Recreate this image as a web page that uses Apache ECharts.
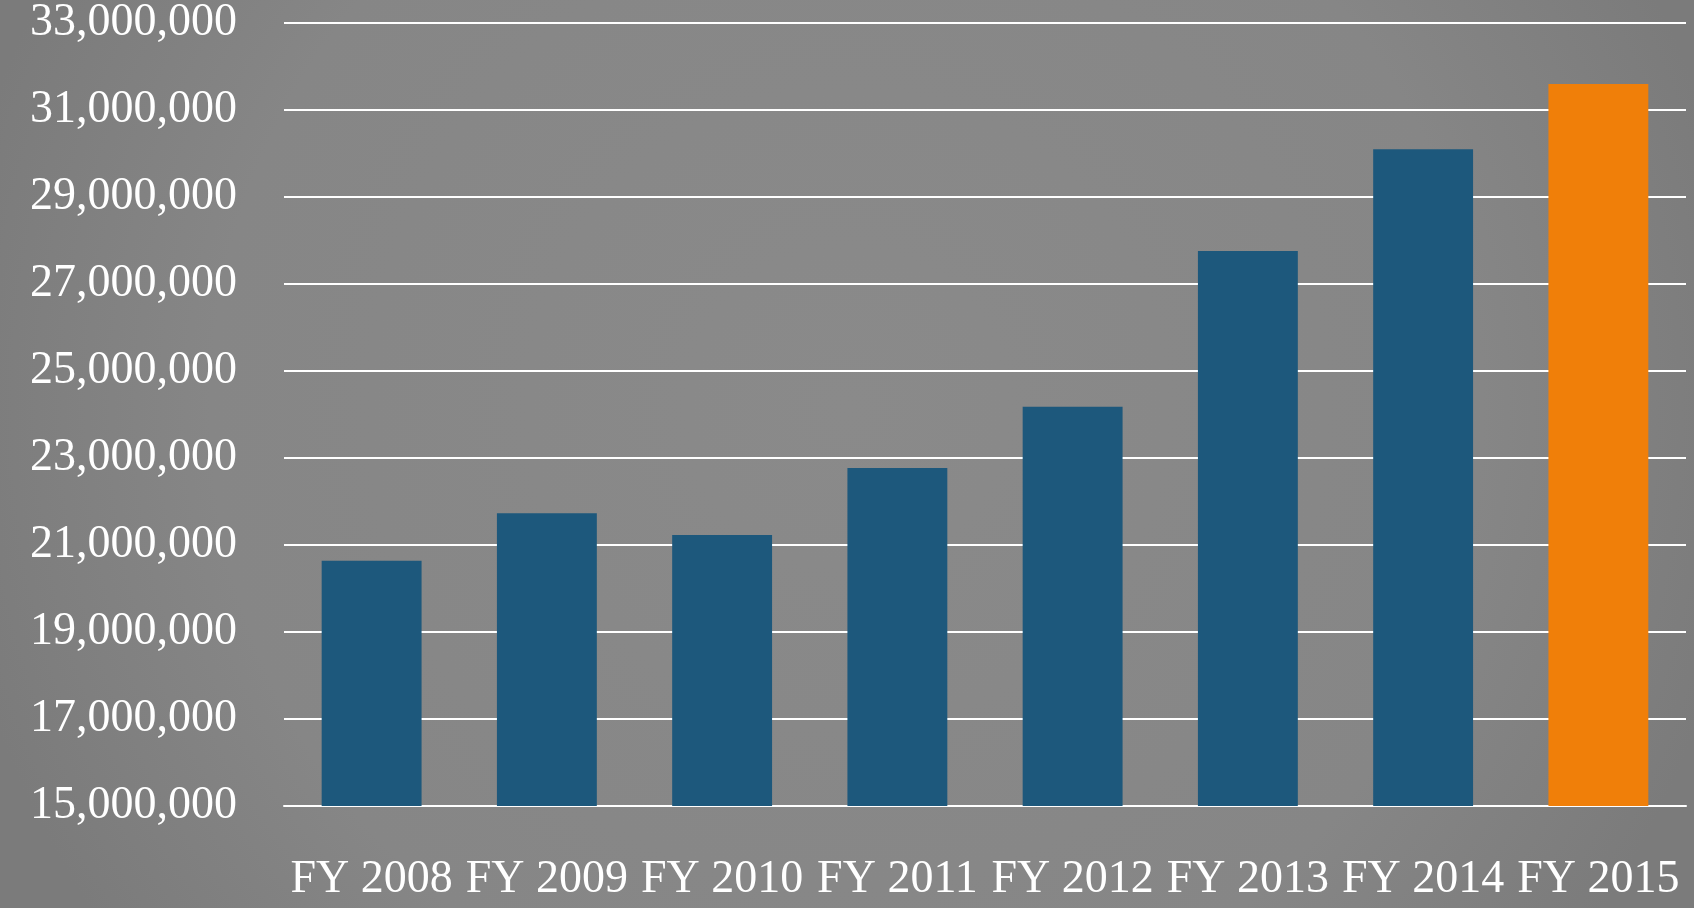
<!DOCTYPE html>
<html>
<head>
<meta charset="utf-8">
<script src="https://cdn.jsdelivr.net/npm/echarts@6/dist/echarts.min.js"></script>
<style>
  html, body { margin: 0; padding: 0; background: #858585; }
  #main { width: 1694px; height: 908px; }
</style>
</head>
<body>
<div id="main"></div>
<script>
const categories = ['FY 2008', 'FY 2009', 'FY 2010', 'FY 2011', 'FY 2012', 'FY 2013', 'FY 2014', 'FY 2015'];
const values = [20640000, 21730000, 21230000, 22770000, 24180000, 27760000, 30100000, 31600000];
const highlight = 'FY 2015';

const chart = echarts.init(document.getElementById('main'));

const option = {
    backgroundColor: {
        type: 'radial',
        x: 0.5,
        y: 0.45,
        r: 1.0,
        colorStops: [
            { offset: 0, color: '#8a8a8a' },
            { offset: 0.7, color: '#868686' },
            { offset: 1, color: '#7b7b7b' }
        ]
    },
    textStyle: { fontFamily: '"Liberation Serif", serif' },
    grid: { left: 284, right: 8, top: 21, bottom: 102 },
    xAxis: {
        type: 'category',
        data: categories,
        axisLine: { show: true, lineStyle: { color: '#ffffff', width: 2 } },
        axisTick: { show: false },
        axisLabel: {
            color: '#ffffff',
            fontSize: 46,
            margin: 51,
            interval: 0
        }
    },
    yAxis: {
        type: 'value',
        min: 15000000,
        max: 33000000,
        interval: 2000000,
        axisLine: { show: false },
        axisTick: { show: false },
        splitLine: { lineStyle: { color: '#ffffff', width: 2 } },
        axisLabel: {
            color: '#ffffff',
            fontSize: 46,
            margin: 47,
            formatter: v => v.toLocaleString('en-US')
        }
    },
    series: [{
        type: 'bar',
        barWidth: '57%',
        data: values.map((v, i) => ({
            value: v,
            itemStyle: { color: categories[i] === highlight ? '#f07f09' : '#1d587c' }
        }))
    }]
};

chart.setOption(option);
</script>
</body>
</html>
